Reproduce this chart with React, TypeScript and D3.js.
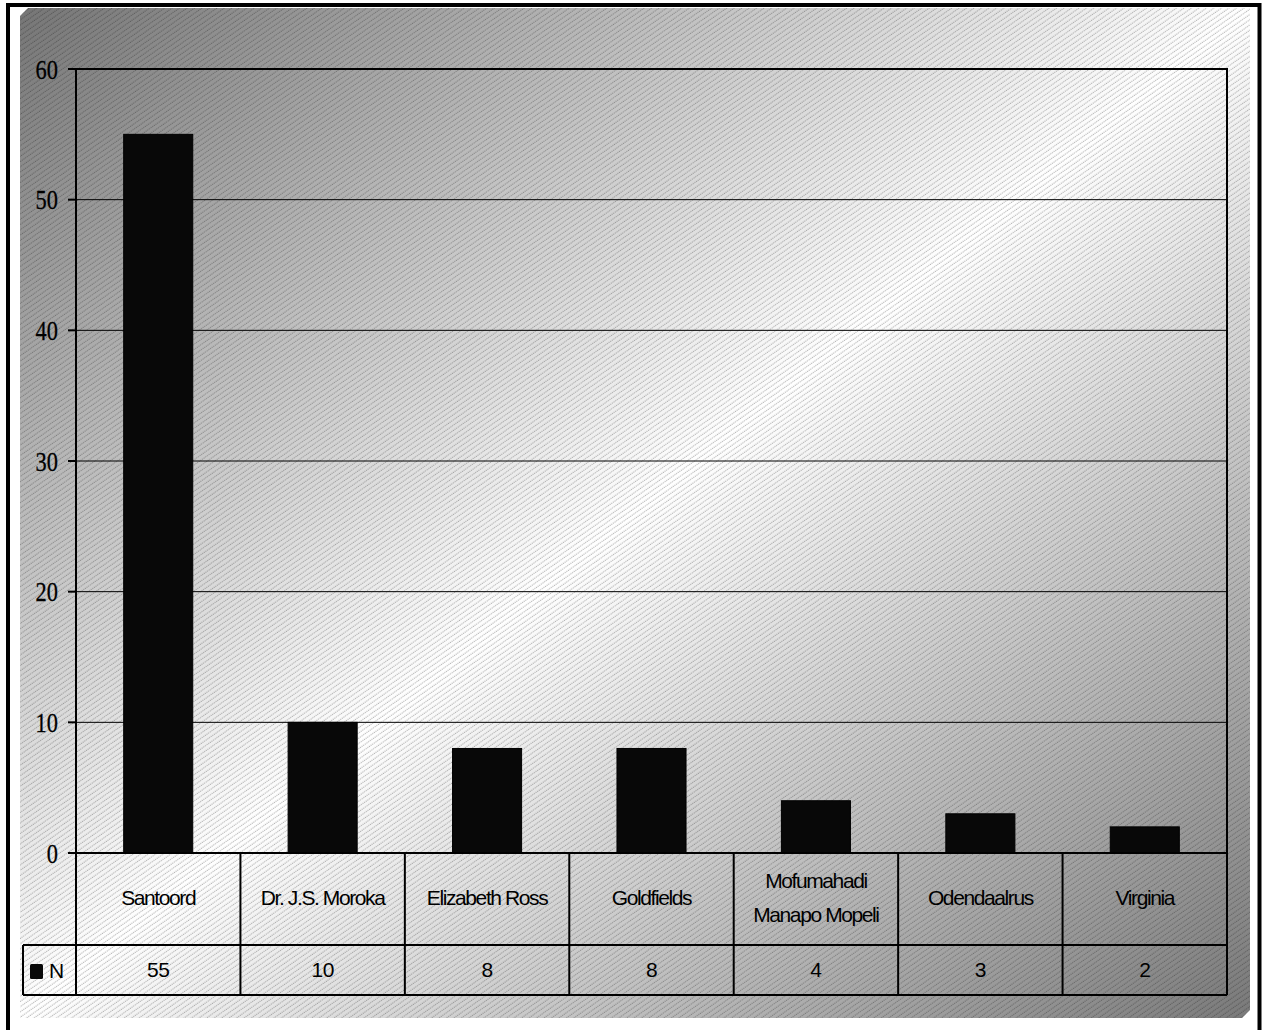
import React from "react";
import * as d3 from "d3";

const categories: string[][] = [
  ["Santoord"],
  ["Dr. J.S. Moroka"],
  ["Elizabeth Ross"],
  ["Goldfields"],
  ["Mofumahadi", "Manapo Mopeli"],
  ["Odendaalrus"],
  ["Virginia"],
];
const values: number[] = [55, 10, 8, 8, 4, 3, 2];
const yTicks: number[] = [0, 10, 20, 30, 40, 50, 60];
const seriesName = "N";

export default function App() {
  const W = 1263;
  const H = 1030;
  const left = 76;
  const right = 1227;
  const top = 69;
  const zeroY = 853;
  const row1 = 945;
  const row2 = 995;
  const legendLeft = 23;

  const keys = categories.map((c) => c.join(" "));
  const x = d3
    .scaleBand<string>()
    .domain(keys)
    .range([left, right])
    .paddingInner(0.58)
    .paddingOuter(0.29);
  const step = x.step();
  const y = d3.scaleLinear().domain([0, 60]).range([zeroY, top]);

  const colEdges = keys.map((_, i) => left + i * step).concat([right]);

  const tableFont = "'Liberation Sans', Arial, sans-serif";

  return (
    <svg
      width={W}
      height={H}
      style={{ position: "absolute", left: 0, top: 0, background: "#fff" }}
    >
      <defs>
        <linearGradient id="bg" x1="0" y1="0" x2="1" y2="1">
          <stop offset="0" stopColor="#767676" />
          <stop offset="0.5" stopColor="#ffffff" />
          <stop offset="1" stopColor="#7a7a7a" />
        </linearGradient>
        <pattern
          id="hatch"
          patternUnits="userSpaceOnUse"
          width="12"
          height="4.3"
          patternTransform="rotate(-35)"
        >
          <line
            x1="0"
            y1="2"
            x2="12"
            y2="2"
            stroke="#000"
            strokeOpacity="0.28"
            strokeWidth="1"
            strokeDasharray="1.2 0.8"
          />
        </pattern>
      </defs>

      {/* chart area with bevelled corners */}
      <polygon
        points="20,16 28,8 1250,8 1250,1010 1242,1018 20,1018"
        fill="url(#bg)"
      />
      <polygon
        points="20,16 28,8 1250,8 1250,1010 1242,1018 20,1018"
        fill="url(#hatch)"
      />

      {/* outer frame */}
      <rect x={8} y={5} width={1251.5} height={1060} fill="none" stroke="#000" strokeWidth={4} />

      {/* gridlines */}
      {yTicks
        .filter((t) => t > 0 && t < 60)
        .map((t) => (
          <line key={"g" + t} x1={left} x2={right} y1={y(t)} y2={y(t)} stroke="#000" strokeWidth={1} />
        ))}

      {/* bars */}
      {values.map((v, i) => (
        <rect
          key={"b" + i}
          x={x(keys[i])!}
          y={y(v)}
          width={x.bandwidth()}
          height={y(0) - y(v)}
          fill="#080808"
          stroke="#000"
          strokeWidth={1}
        />
      ))}

      {/* plot border */}
      <rect x={left} y={top} width={right - left} height={zeroY - top} fill="none" stroke="#000" strokeWidth={2} />

      {/* y ticks & labels */}
      {yTicks.map((t) => (
        <g key={"t" + t}>
          <line x1={left - 8} x2={left} y1={y(t)} y2={y(t)} stroke="#000" strokeWidth={2} />
          <text
            transform={`translate(58,${y(t)}) scale(0.8,1)`}
            dy="0.35em"
            textAnchor="end"
            fontFamily="'Liberation Serif', 'Times New Roman', serif"
            fontSize={28}
            stroke="#000"
            strokeWidth={0.3}
            fill="#000"
          >
            {t}
          </text>
        </g>
      ))}

      {/* data table */}
      <g stroke="#000" strokeWidth={2} fill="none">
        <line x1={left} x2={right} y1={zeroY} y2={zeroY} />
        <line x1={legendLeft} x2={right} y1={row1} y2={row1} />
        <line x1={legendLeft} x2={right} y1={row2} y2={row2} />
        <line x1={legendLeft} x2={legendLeft} y1={row1} y2={row2} />
        {colEdges.map((cx, i) => (
          <line key={"c" + i} x1={cx} x2={cx} y1={zeroY} y2={row2} />
        ))}
      </g>

      {categories.map((lines, i) => {
        const cx = x(keys[i])! + x.bandwidth() / 2;
        const cy = (zeroY + row1) / 2 - 1;
        const lh = 34;
        return (
          <text
            key={"cat" + i}
            textAnchor="middle"
            fontFamily={tableFont}
            fontSize={21}
            letterSpacing={-1.4}
            fill="#000"
          >
            {lines.map((l, j) => (
              <tspan key={j} x={cx} y={cy + (j - (lines.length - 1) / 2) * lh} dy="0.35em">
                {l}
              </tspan>
            ))}
          </text>
        );
      })}

      {values.map((v, i) => (
        <text
          key={"v" + i}
          x={x(keys[i])! + x.bandwidth() / 2}
          y={(row1 + row2) / 2}
          dy="0.35em"
          textAnchor="middle"
          fontFamily={tableFont}
          fontSize={21}
          letterSpacing={-0.5}
          fill="#000"
        >
          {v}
        </text>
      ))}

      {/* legend key */}
      <rect x={30} y={964} width={13} height={15} rx={1.5} fill="#080808" />
      <text x={49} y={(row1 + row2) / 2 + 1} dy="0.35em" fontFamily={tableFont} fontSize={21} fill="#000">
        {seriesName}
      </text>
    </svg>
  );
}
